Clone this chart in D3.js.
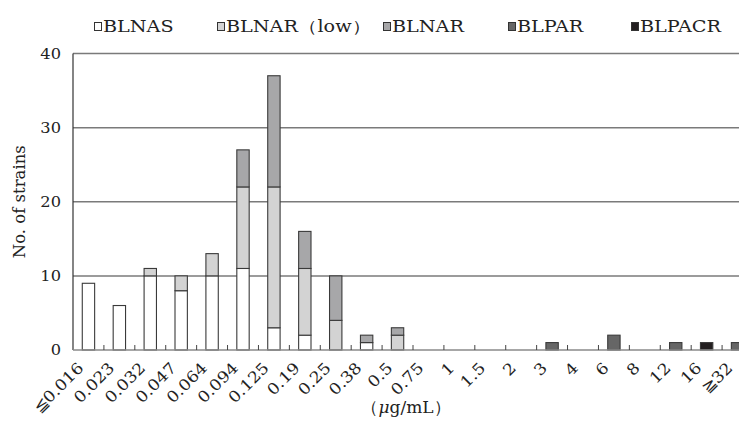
<!DOCTYPE html>
<html>
<head>
<meta charset="utf-8">
<script src="https://cdn.jsdelivr.net/npm/d3@7"></script>
<style>
  html, body { margin: 0; padding: 0; background: #fff; }
  svg { display: block; }
  text { font-family: "DejaVu Serif", "Liberation Serif", serif; fill: #222; }
</style>
</head>
<body>
<svg id="chart" width="739" height="421"></svg>
<script>
// MIC categories (µg/mL)
const categories = ["≦0.016","0.023","0.032","0.047","0.064","0.094","0.125","0.19","0.25","0.38","0.5","0.75","1","1.5","2","3","4","6","8","12","16","≧32"];

// Number of strains per resistance class
const blnas    = [9, 6, 10, 8, 10, 11, 3, 2, 0, 1, 0, 0, 0, 0, 0, 0, 0, 0, 0, 0, 0, 0];
const blnarLow = [0, 0, 1, 2, 3, 11, 19, 9, 4, 0, 2, 0, 0, 0, 0, 0, 0, 0, 0, 0, 0, 0];
const blnar    = [0, 0, 0, 0, 0, 5, 15, 5, 6, 1, 1, 0, 0, 0, 0, 0, 0, 0, 0, 0, 0, 0];
const blpar    = [0, 0, 0, 0, 0, 0, 0, 0, 0, 0, 0, 0, 0, 0, 0, 1, 0, 2, 0, 1, 0, 1];
const blpacr   = [0, 0, 0, 0, 0, 0, 0, 0, 0, 0, 0, 0, 0, 0, 0, 0, 0, 0, 0, 0, 1, 0];

const seriesNames = ["BLNAS", "BLNAR（low）", "BLNAR", "BLPAR", "BLPACR"];
const seriesColors = ["#ffffff", "#d3d3d3", "#a7a7a9", "#666666", "#231f20"];
const yTicks = [0, 10, 20, 30, 40];

const keys = ["s0", "s1", "s2", "s3", "s4"];
const rows = categories.map((c, i) => ({
  cat: c, s0: blnas[i], s1: blnarLow[i], s2: blnar[i], s3: blpar[i], s4: blpacr[i]
}));

const svg = d3.select("#chart");
const plot = { left: 73, right: 753, top: 53.5, bottom: 350 };

const x = d3.scaleBand()
  .domain(categories)
  .range([plot.left, plot.right])
  .paddingInner(0.6)
  .paddingOuter(0.3);

const y = d3.scaleLinear().domain([0, 40]).range([plot.bottom, plot.top]);

const color = d3.scaleOrdinal().domain(keys).range(seriesColors);

// horizontal gridlines
svg.append("g")
  .selectAll("line")
  .data(yTicks.filter(d => d > 0))
  .join("line")
  .attr("x1", plot.left).attr("x2", 739)
  .attr("y1", d => y(d)).attr("y2", d => y(d))
  .attr("stroke", "#7a7a7a").attr("stroke-width", 1.5);

// stacked bars
const stacked = d3.stack().keys(keys)(rows);
svg.append("g")
  .selectAll("g")
  .data(stacked)
  .join("g")
  .attr("fill", d => color(d.key))
  .selectAll("rect")
  .data(d => d.filter(p => p[1] - p[0] > 0))
  .join("rect")
  .attr("x", d => x(d.data.cat))
  .attr("width", x.bandwidth())
  .attr("y", d => y(d[1]))
  .attr("height", d => y(d[0]) - y(d[1]))
  .attr("stroke", "#3a3a3a")
  .attr("stroke-width", 1.1);

// y axis line and labels
svg.append("line")
  .attr("x1", plot.left).attr("x2", plot.left)
  .attr("y1", plot.top).attr("y2", plot.bottom)
  .attr("stroke", "#333").attr("stroke-width", 1.2);

svg.append("g")
  .selectAll("text")
  .data(yTicks)
  .join("text")
  .attr("transform", d => `translate(61,${y(d)}) scale(1.12,1)`)
  .attr("text-anchor", "end")
  .attr("dy", "0.36em")
  .attr("font-size", 14.5)
  .text(d => d);

// x axis line with inward ticks between categories
const step = x.step();
const bandStart = c => x(c) - (step - x.bandwidth()) / 2;
svg.append("line")
  .attr("x1", plot.left).attr("x2", 739)
  .attr("y1", plot.bottom).attr("y2", plot.bottom)
  .attr("stroke", "#8a8a8a").attr("stroke-width", 1.6);

svg.append("g")
  .selectAll("line")
  .data(categories.slice(1))
  .join("line")
  .attr("x1", c => bandStart(c)).attr("x2", c => bandStart(c))
  .attr("y1", plot.bottom - 5).attr("y2", plot.bottom)
  .attr("stroke", "#444").attr("stroke-width", 1);

// rotated category labels
svg.append("g")
  .selectAll("text")
  .data(categories)
  .join("text")
  .attr("transform", c => `translate(${x(c) + x.bandwidth() / 2 - 4},369) rotate(-45) scale(1.12,1)`)
  .attr("text-anchor", "end")
  .attr("font-size", 15.5)
  .text(c => c);

// axis titles
svg.append("text")
  .attr("transform", `translate(25,${(plot.top + plot.bottom) / 2}) rotate(-90)`)
  .attr("text-anchor", "middle")
  .attr("font-size", 16.5)
  .text("No. of strains");

const unit = svg.append("text")
  .attr("x", 406).attr("y", 413)
  .attr("text-anchor", "middle")
  .attr("font-size", 17);
unit.append("tspan").text("（");
unit.append("tspan").attr("font-style", "italic").text("μ");
unit.append("tspan").text("g/mL）");

// legend
const legendX = [94, 217, 383, 508, 631];
const legend = svg.append("g")
  .selectAll("g")
  .data(seriesNames)
  .join("g")
  .attr("transform", (d, i) => `translate(${legendX[i]},0)`);
legend.append("rect")
  .attr("x", 0.5).attr("y", 22.5)
  .attr("width", 7).attr("height", 8)
  .attr("fill", (d, i) => seriesColors[i])
  .attr("stroke", "#333").attr("stroke-width", 1);
legend.append("text")
  .attr("transform", "translate(9,32) scale(1.2,1)")
  .attr("font-size", 16)
  .text(d => d);
</script>
</body>
</html>
